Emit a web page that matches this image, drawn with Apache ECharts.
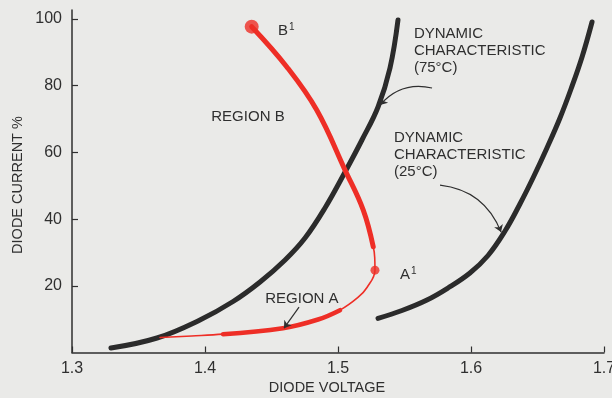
<!DOCTYPE html>
<html>
<head>
<meta charset="utf-8">
<script src="https://cdn.jsdelivr.net/npm/echarts@6/dist/echarts.min.js"></script>
<style>
  html, body { margin: 0; padding: 0; background: #eaeae8; }
  #chart { width: 612px; height: 398px; }
</style>
</head>
<body>
<div id="chart"></div>
<script>
// Dynamic characteristic at 75 °C: [diode voltage, diode current %]
const curve75 = [
  [1.3293, 1.35], [1.3639, 4.35], [1.3962, 9.75], [1.4211, 15.29], [1.4414, 21.14],
  [1.4602, 27.74], [1.4752, 34.33], [1.4902, 43.33], [1.5053, 54.12], [1.5180, 63.72],
  [1.5301, 73.61], [1.5391, 85.31], [1.5451, 99.70]
];
// Dynamic characteristic at 25 °C
const curve25 = [
  [1.5301, 10.25], [1.5481, 12.59], [1.5669, 15.74], [1.5827, 19.34], [1.5992, 23.84],
  [1.6128, 29.09], [1.6256, 36.43], [1.6368, 44.53], [1.6466, 52.32], [1.6571, 61.32],
  [1.6669, 70.31], [1.6752, 79.01], [1.6835, 88.61], [1.6910, 99.10]
];
// Operating path of the diode, from low current round through A¹ up to B¹
const operatingPath = [
  [1.3662, 4.5], [1.3900, 4.95], [1.4135, 5.5], [1.4586, 7.3], [1.4850, 9.9],
  [1.5015, 12.7], [1.5150, 16.5], [1.5218, 19.5], [1.5278, 24.7], [1.5276, 28.5],
  [1.5265, 31.7], [1.5190, 42.7], [1.5053, 54.7], [1.4840, 72.7], [1.4614, 85.7],
  [1.4351, 97.7]
];
// Heavier stretches of the path
const regionA = operatingPath.slice(2, 6);
const regionB = operatingPath.slice(10);
// Marked end points
const pointA = [1.5278, 24.7];
const pointB = [1.4351, 97.7];
// Axis ticks
const xTicks = [1.3, 1.4, 1.5, 1.6, 1.7];
const yTicks = [20, 40, 60, 80, 100];

const INK = '#2f2f2f';
const RED = '#ee2e26';
const FONT = 'Liberation Sans';

const chart = echarts.init(document.getElementById('chart'), null, { renderer: 'canvas' });

const curveStyle = (color, width, smooth) => ({
  type: 'line', smooth: smooth, showSymbol: false, symbol: 'none', silent: true,
  lineStyle: { color: color, width: width, cap: 'round', join: 'round' }
});

chart.setOption({
  backgroundColor: '#eaeae8',
  animation: false,
  grid: { left: 72, right: 8, top: 10, bottom: 45.5, outerBoundsMode: 'none', containLabel: false },
  xAxis: {
    type: 'value', min: 1.3, max: 1.7, interval: 0.1,
    axisLine: { lineStyle: { color: INK, width: 1.5 } },
    axisTick: { inside: true, length: 6, lineStyle: { color: INK, width: 1.2 }, customValues: xTicks },
    axisLabel: {
      customValues: xTicks, formatter: v => v.toFixed(1),
      color: INK, fontSize: 16, fontFamily: FONT, margin: 8
    },
    splitLine: { show: false }
  },
  yAxis: {
    type: 'value', min: 0, max: 102.7, interval: 20,
    axisLine: { lineStyle: { color: INK, width: 1.5 } },
    axisTick: { inside: true, length: 6, lineStyle: { color: INK, width: 1.2 }, customValues: yTicks },
    axisLabel: {
      customValues: yTicks, color: INK, fontSize: 16, fontFamily: FONT, margin: 10
    },
    splitLine: { show: false }
  },
  series: [
    Object.assign(curveStyle('#2b2b2b', 5, 0.4), { name: '75 °C', data: curve75, z: 3 }),
    Object.assign(curveStyle('#2b2b2b', 5, 0.4), { name: '25 °C', data: curve25, z: 3 }),
    Object.assign(curveStyle(RED, 1.6, 0.4), { name: 'path', data: operatingPath, z: 4 }),
    Object.assign(curveStyle(RED, 4.5, 0.4), { name: 'region A', data: regionA, z: 4 }),
    Object.assign(curveStyle(RED, 5, 0.4), { name: 'region B', data: regionB, z: 4 }),
    {
      type: 'scatter', silent: true, z: 5,
      symbol: 'circle', itemStyle: { color: RED },
      data: [
        { value: pointA, symbolSize: 9 },
        { value: pointB, symbolSize: 14 }
      ]
    },
    {
      type: 'lines', coordinateSystem: 'cartesian2d', silent: true, z: 6,
      symbol: ['none', 'arrow'], symbolSize: 7,
      lineStyle: { color: INK, width: 1.2, opacity: 1 },
      data: [
        { coords: [[1.5707, 79.3], [1.5316, 74.2]], lineStyle: { curveness: -0.3 } },
        { coords: [[1.5767, 50.2], [1.6226, 36.1]], lineStyle: { curveness: 0.3 } },
        { coords: [[1.4707, 13.6], [1.4594, 7.3]], lineStyle: { curveness: 0 } }
      ]
    }
  ]
});

// Text annotations placed in data coordinates
const notes = [
  { at: [1.4549, 96.4], text: 'B{s|1}', align: 'left', va: 'middle' },
  { at: [1.4323, 70.6], text: 'REGION B', align: 'center', va: 'middle' },
  { at: [1.4729, 16.0], text: 'REGION A', align: 'center', va: 'middle' },
  { at: [1.5466, 23.2], text: 'A{s|1}', align: 'left', va: 'middle' },
  { at: [1.5571, 98.2], text: 'DYNAMIC\nCHARACTERISTIC\n(75°C)', align: 'left', va: 'top' },
  { at: [1.5421, 67.0], text: 'DYNAMIC\nCHARACTERISTIC\n(25°C)', align: 'left', va: 'top' }
];

const NOTE_FONT = '15px "' + FONT + '"';
const graphic = notes.map(n => {
  const p = chart.convertToPixel({ gridIndex: 0 }, n.at);
  return {
    type: 'text', x: p[0], y: p[1], silent: true, z: 10,
    style: {
      text: n.text, fill: INK, font: NOTE_FONT,
      align: n.align, verticalAlign: n.va, lineHeight: 17,
      rich: { s: { fontSize: 10, fill: INK, verticalAlign: 'top', padding: [0, 0, 8, 1] } }
    }
  };
});
graphic.push(
  {
    type: 'text', x: 18, y: 185, rotation: Math.PI / 2, silent: true,
    style: { text: 'DIODE CURRENT %', fill: INK, font: '14.5px "' + FONT + '"', align: 'center', verticalAlign: 'middle' }
  },
  {
    type: 'text', x: 327, y: 388, silent: true,
    style: { text: 'DIODE VOLTAGE', fill: INK, font: '14.5px "' + FONT + '"', align: 'center', verticalAlign: 'middle' }
  }
);
chart.setOption({ graphic: graphic });
</script>
</body>
</html>
